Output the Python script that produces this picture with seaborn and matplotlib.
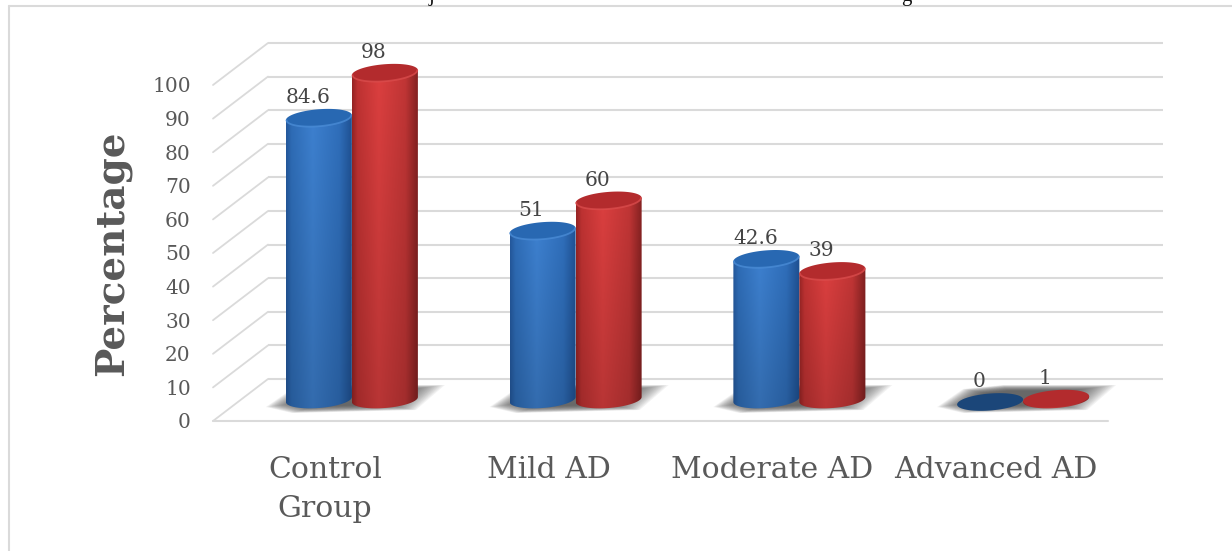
import numpy as np
import pandas as pd
import seaborn as sns
import matplotlib
matplotlib.use("Agg")
import matplotlib.pyplot as plt
from matplotlib.lines import Line2D
from matplotlib.patches import Polygon

# Percentages per diagnostic group
groups = ["Control\nGroup", "Mild AD", "Moderate AD", "Advanced AD"]
series_a = [84.6, 51, 42.6, 0]
series_b = [98, 60, 39, 1]
y_ticks = list(range(0, 101, 10))

W, H = 1232, 551
GRID = "#DADADA"
TEXT = "#595959"
LABEL = "#454545"

# Shading stops across a cylinder, left to right
STOPS = [0.0, 0.08, 0.40, 0.80, 1.0]
BLUE_STOPS = ["#24589C", "#2E6CB6", "#3D80CF", "#2F6EBA", "#1E4F90"]
RED_STOPS = ["#962424", "#BE3232", "#DB3F3F", "#C03535", "#802020"]
DISCS = {"a": ("#2868B2", "#4E90DA"), "b": ("#B32B2D", "#DE5050")}
FLAT_DISC = "#1B4679"

sns.set_theme(style="white")
plt.rcParams["font.family"] = ["DejaVu Serif"]

fig = plt.figure(figsize=(W / 100, H / 100), dpi=100, facecolor="white")


def plane_axes(dx, dy):
    """Axes covering the plot box, displaced in pixels to a given depth."""
    left, right, top, bottom = 213 + dx, 1108 + dx, 85 + dy, 421 + dy
    ax = fig.add_axes([left / W, 1 - bottom / H, (right - left) / W, (bottom - top) / H])
    ax.set_xlim(-0.5, 3.5)
    ax.set_ylim(0, 100)
    ax.patch.set_alpha(0)
    for s in ax.spines.values():
        s.set_visible(False)
    return ax


ax_wall = plane_axes(55, -42)
ax_front = plane_axes(0, 0)
ax_bars = plane_axes(27, -19)

PX_X = 895 / 4       # pixels per category
PX_Y = 3.36          # pixels per percentage point

# Back wall and the receding side-wall lines
ax_wall.set_xticks([])
ax_wall.set_yticks([])
for v in y_ticks:
    ax_wall.plot([-0.5, 3.5], [v, v], color=GRID, lw=1.5, clip_on=False, solid_capstyle="butt")
    ax_front.plot([-0.5, -0.5 + 55 / PX_X], [v, v + 42 / PX_Y], color=GRID, lw=1.3, clip_on=False)
ax_front.plot([-0.5, 3.5], [0, 0], color=GRID, lw=1.5, clip_on=False)

# Axis text lives on the front plane
ax_front.set_xticks(range(len(groups)))
ax_front.set_xticklabels(groups, fontsize=21.5, color=TEXT, linespacing=1.5)
ax_front.set_yticks(y_ticks)
ax_front.set_yticklabels([str(v) for v in y_ticks], fontsize=14.5, color=TEXT)
ax_front.tick_params(axis="x", length=0, pad=25)
ax_front.tick_params(axis="y", length=0, pad=16)
ax_front.set_ylabel("Percentage", fontsize=28, fontweight="bold", color=TEXT)
ax_front.yaxis.set_label_coords(-0.091, 0.5)

# Bars
df = pd.DataFrame({
    "group": groups * 2,
    "series": ["a"] * len(groups) + ["b"] * len(groups),
    "pct": series_a + series_b,
})
sns.barplot(data=df, x="group", y="pct", hue="series", order=groups, hue_order=["a", "b"],
            palette={"a": "#2C69B4", "b": "#B83232"}, width=0.59, gap=0, legend=False,
            ax=ax_bars, errorbar=None)
ax_bars.set_xlabel("")
ax_bars.set_ylabel("")
ax_bars.set_xticks([])
ax_bars.set_yticks([])
bars = list(ax_bars.patches)

# Soft floor shadows under each pair of cylinders
SHADOW = np.array([[-86, -5], [-60, 13], [-20, 17], [93, 17], [64, -8], [-60, -11]], dtype=float)
for i in range(len(groups)):
    centre = SHADOW.mean(axis=0)
    for scale in np.linspace(1.0, 0.55, 24):
        pts = centre + (SHADOW - centre) * scale
        ax_bars.add_patch(Polygon(np.c_[i + pts[:, 0] / PX_X, pts[:, 1] / PX_Y], closed=True,
                                  fc="#505050", ec="none", alpha=0.07, zorder=1, clip_on=False))

T_LOW = np.linspace(np.pi, 2 * np.pi, 60)
T_ALL = np.linspace(0, 2 * np.pi, 120)
B = 8.5 / PX_Y    # half height of a cylinder end
S = 2.5 / PX_Y    # rise of the end ellipse across its half width
FOOT = 2.5 / PX_Y  # the curved foot sits slightly above the nominal base


def ellipse_xy(cx, a, c, t):
    return cx + a * np.cos(t), c + B * np.sin(t) + S * np.cos(t)


def rgb(hex_list):
    return np.array([matplotlib.colors.to_rgb(h) for h in hex_list])


for n, patch in enumerate(bars):
    key = "a" if n < len(groups) else "b"
    value = (series_a + series_b)[n]
    patch.set_visible(False)
    x0, w, h = patch.get_x(), patch.get_width(), patch.get_height()
    cx, a = x0 + w / 2, w / 2
    z = 3 + 0.01 * n + (1 if key == "b" else 0)

    # Cylinder wall: outline down one side, round the base, up the other
    bx, by = ellipse_xy(cx, a, FOOT, T_LOW)
    body = np.r_[[[x0, h - S]], np.c_[bx, by], [[x0 + w, h + S]]]
    if value > 0:
        clip = Polygon(body, closed=True, fc="none", ec="none", transform=ax_bars.transData)
        clip.set_clip_on(False)
        ax_bars.add_patch(clip)
        u = np.linspace(0, 1, 128)
        stops = rgb(BLUE_STOPS if key == "a" else RED_STOPS)
        row = np.stack([np.interp(u, STOPS, stops[:, c]) for c in range(3)], axis=1)
        fade = np.linspace(0.84, 1.0, 64)[:, None, None]
        img = ax_bars.imshow(row[None, :, :] * fade, extent=[x0, x0 + w, -B - S, h + S],
                             origin="lower", aspect="auto", interpolation="bilinear", zorder=z)
        img.set_clip_box(fig.bbox)
        img.set_clip_path(clip)

    # Cylinder top
    flat = value == 0
    dx, dy = ellipse_xy(cx, a, h, T_ALL)
    ax_bars.add_patch(Polygon(np.c_[dx, dy], closed=True, ec="none", clip_on=False, zorder=z + 0.001,
                              fc=FLAT_DISC if flat else DISCS[key][0]))
    if value > 1:
        rx, ry = ellipse_xy(cx, a * 0.98, h, T_LOW)
        ax_bars.plot(rx, ry, color=DISCS[key][1], lw=1.3, alpha=0.7, zorder=z + 0.002, clip_on=False)

    ax_bars.annotate(f"{value:g}", xy=(cx, h), xytext=(-8, 14.5), textcoords="offset points",
                     ha="center", va="center", fontsize=14.5, color=LABEL, zorder=20,
                     annotation_clip=False)

ax_bars.set_xlim(-0.5, 3.5)
ax_bars.set_ylim(0, 100)

# Outer chart border, open on the right and at the bottom
fig.add_artist(Line2D([9 / W, 1], [1 - 6 / H, 1 - 6 / H], color=GRID, lw=1.5))
fig.add_artist(Line2D([9 / W, 9 / W], [0, 1 - 6 / H], color=GRID, lw=1.5))

# Descenders of a heading line cut off by the top edge
fig.text(432 / W, 1 - 1 / H, "j", family="Liberation Serif", fontsize=15, color="#111111", va="baseline", ha="center")
fig.text(906 / W, 1 - 1 / H, "g", family="Liberation Serif", fontsize=15, color="#111111", va="baseline", ha="center")

fig.savefig("out.png", dpi=100, facecolor="white")
